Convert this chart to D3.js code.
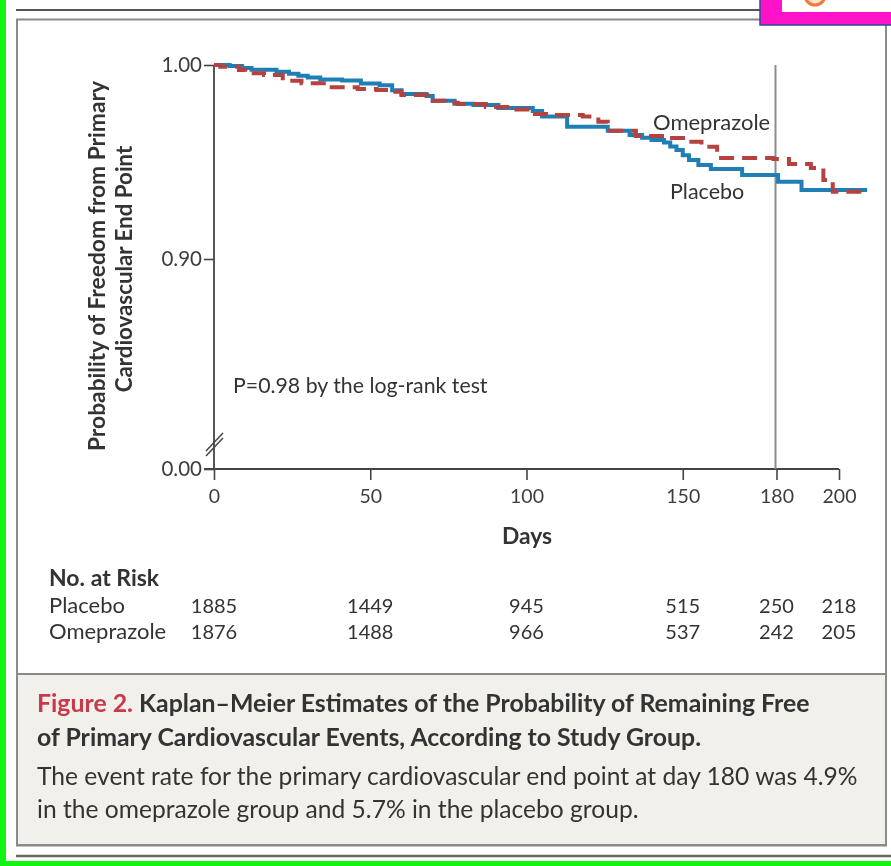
<!DOCTYPE html>
<html>
  <head>
    <meta charset="utf-8">
    <script src="https://d3js.org/d3.v7.min.js"></script>
    <style>
      html, body { margin: 0; padding: 0; background: #fff; overflow: hidden; }
      svg { display: block; font-family: Lato, sans-serif; filter: blur(0.7px); }
      text { fill: #333; }
    </style>
  </head>
  <body>
    <svg id="chart" width="891" height="866"></svg>
    <script>
      // values
      const placeboDays = [0, 5, 9, 12, 20, 24, 27, 30, 34, 41, 47, 53, 57, 60, 68, 70, 77, 83, 91, 102, 105, 113, 126, 133, 137, 140, 144, 146, 148, 150, 152, 155, 159, 169, 180.5, 188, 209];
      const placeboProb = [1, 0.9995, 0.9985, 0.9975, 0.9965, 0.9955, 0.9945, 0.9935, 0.9925, 0.992, 0.9905, 0.9895, 0.987, 0.985, 0.984, 0.9816, 0.98, 0.9794, 0.9778, 0.9763, 0.9734, 0.9682, 0.9661, 0.9639, 0.9625, 0.9613, 0.96, 0.958, 0.9562, 0.9535, 0.951, 0.9485, 0.9464, 0.9433, 0.9398, 0.9356, 0.9356];
      const omeprazoleDays = [0, 2, 8, 10, 16, 22, 28, 36, 46, 52, 58, 60, 70, 75, 78, 87, 95, 102, 109, 118, 123, 126, 135, 145, 152, 156, 161, 179, 184, 191, 195, 198, 209];
      const omeprazoleProb = [1, 0.9991, 0.9974, 0.9957, 0.9948, 0.9919, 0.9906, 0.9885, 0.9876, 0.9871, 0.9862, 0.9845, 0.9816, 0.9806, 0.9799, 0.9784, 0.977, 0.9747, 0.9742, 0.9734, 0.9708, 0.9661, 0.9634, 0.9624, 0.9605, 0.9579, 0.9521, 0.9515, 0.949, 0.9469, 0.9407, 0.9347, 0.934];
      const xTicks = [0, 50, 100, 150, 180, 200];
      const yTicks = [0, 0.9, 1];
      const riskPlacebo = [1885, 1449, 945, 515, 250, 218];
      const riskOmeprazole = [1876, 1488, 966, 537, 242, 205];

      const svg = d3.select("#chart");
      const x = d3.scaleLinear().domain([0, 200]).range([214, 839]);
      // the axis is broken between 0 and 0.8
      const y = d3.scaleLinear().domain([0, 0.8, 1]).range([469, 453, 65]);

      // page furniture
      svg.append("rect").attr("x", 17).attr("y", 19.5).attr("width", 869).attr("height", 826)
        .attr("fill", "#fff").attr("stroke", "#8a8a8a").attr("stroke-width", 2);
      svg.append("rect").attr("x", 17).attr("y", 674).attr("width", 869).attr("height", 171)
        .attr("fill", "#f2f0ea").attr("stroke", "#8a8a8a").attr("stroke-width", 2);
      svg.append("line").attr("x1", 16).attr("x2", 891).attr("y1", 10).attr("y2", 10)
        .attr("stroke", "#555").attr("stroke-width", 2);
      svg.append("line").attr("x1", 16).attr("x2", 891).attr("y1", 856).attr("y2", 856)
        .attr("stroke", "#666").attr("stroke-width", 2.5);
      svg.append("rect").attr("x", 0).attr("y", 0).attr("width", 6).attr("height", 866).attr("fill", "#12f512");
      svg.append("rect").attr("x", 0).attr("y", 861).attr("width", 891).attr("height", 5).attr("fill", "#12f512");
      svg.append("rect").attr("x", 760).attr("y", -5).attr("width", 140).attr("height", 30)
        .attr("fill", "#ff12c8").attr("stroke", "#2c4a9a").attr("stroke-width", 1.5);
      svg.append("rect").attr("x", 782).attr("y", 0).attr("width", 109).attr("height", 12).attr("fill", "#fff");
      svg.append("circle").attr("cx", 815).attr("cy", -5).attr("r", 10)
        .attr("fill", "#fbe3d0").attr("stroke", "#ee7a3c").attr("stroke-width", 3);

      // axes
      const bottomAxis = d3.axisBottom(x).tickValues(xTicks).tickSize(11).tickPadding(9).tickFormat(d3.format("d"));
      const leftAxis = d3.axisLeft(y).tickValues(yTicks).tickSize(10).tickPadding(2).tickFormat(d3.format(".2f"));
      const gx = svg.append("g").attr("transform", "translate(0,469)").call(bottomAxis);
      const gy = svg.append("g").attr("transform", "translate(214,0)").call(leftAxis);
      gx.select(".domain").remove();
      gy.select(".domain").remove();
      svg.append("line").attr("x1", 204).attr("x2", 839).attr("y1", 469).attr("y2", 469)
        .attr("stroke", "#444").attr("stroke-width", 1.8);
      svg.append("line").attr("x1", 214).attr("x2", 214).attr("y1", 65).attr("y2", 469)
        .attr("stroke", "#444").attr("stroke-width", 1.8);
      svg.selectAll(".tick line").attr("stroke", "#444").attr("stroke-width", 1.6);
      gx.selectAll(".tick text").attr("font-size", 19.5).attr("font-family", "Lato, sans-serif").style("fill", "#3c3c3c");
      gy.selectAll(".tick text").attr("font-size", 20.5).attr("font-family", "Lato, sans-serif").style("fill", "#3c3c3c");

      // axis break marks
      [0, 5].forEach(d => {
        svg.append("line").attr("x1", 206).attr("x2", 223).attr("y1", 456 - d).attr("y2", 438 - d)
          .attr("stroke", "#444").attr("stroke-width", 1.5);
      });

      // day 180 line
      svg.append("line").attr("x1", x(180) - 1).attr("x2", x(180) - 1).attr("y1", 65).attr("y2", 469)
        .attr("stroke", "#8c8c8c").attr("stroke-width", 2);

      // curves
      const stepLine = d3.line().x(d => x(d[0])).y(d => y(d[1])).curve(d3.curveStepAfter);
      svg.append("path").datum(d3.zip(placeboDays, placeboProb))
        .attr("d", stepLine).attr("fill", "none").attr("stroke", "#1f7fb5").attr("stroke-width", 4);
      svg.append("path").datum(d3.zip(omeprazoleDays, omeprazoleProb))
        .attr("d", stepLine).attr("fill", "none").attr("stroke", "#b5423f").attr("stroke-width", 4)
        .attr("stroke-dasharray", "15 8");

      const label = (s, px, py, size, opts = {}) => svg.append("text")
        .attr("x", px).attr("y", py).attr("font-size", size)
        .attr("text-anchor", opts.anchor || "start")
        .attr("font-weight", opts.weight || 400)
        .attr("transform", opts.rotate ? `rotate(-90,${px},${py})` : null)
        .text(s);

      label("Omeprazole", 653, 130, 22);
      label("Placebo", 670, 199, 21.5);
      label("P=0.98 by the log-rank test", 233, 393, 21.3);
      label("Days", 527, 544, 22.8, {anchor: "middle", weight: 700});
      label("Probability of Freedom from Primary", 105, 266, 22.8, {anchor: "middle", weight: 700, rotate: true});
      label("Cardiovascular End Point", 132, 269, 22.3, {anchor: "middle", weight: 700, rotate: true});

      // risk table
      label("No. at Risk", 49, 586, 23, {weight: 700});
      label("Placebo", 49, 613, 22);
      label("Omeprazole", 49, 639, 22);
      riskPlacebo.forEach((d, i) => label(d, x(xTicks[i]), 613, 20, {anchor: "middle"}));
      riskOmeprazole.forEach((d, i) => label(d, x(xTicks[i]), 639, 20, {anchor: "middle"}));

      // caption
      const cap = label("", 37, 712, 24.85, {weight: 700});
      cap.append("tspan").style("fill", "#c8394a").text("Figure 2. ");
      cap.append("tspan").text("Kaplan\u2013Meier Estimates of the Probability of Remaining Free");
      label("of Primary Cardiovascular Events, According to Study Group.", 37, 746, 24.85, {weight: 700});
      label("The event rate for the primary cardiovascular end point at day 180 was 4.9%", 37, 785, 24.6);
      label("in the omeprazole group and 5.7% in the placebo group.", 37, 818, 24.6);
    </script>
  </body>
</html>
